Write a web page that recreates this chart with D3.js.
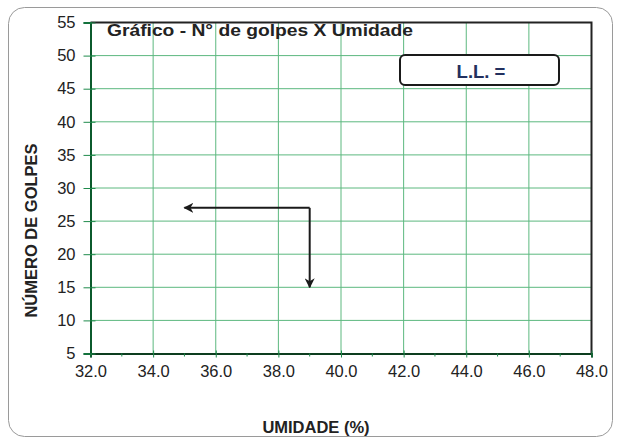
<!DOCTYPE html>
<html>
<head>
<meta charset="utf-8">
<script src="https://cdn.jsdelivr.net/npm/d3@7"></script>
<style>
  body { margin: 0; background: #fff; }
  text { font-family: "Liberation Sans", Arial, sans-serif; }
</style>
</head>
<body>
<script>
/* chart data */
var xTicks = [32, 34, 36, 38, 40, 42, 44, 46, 48];
var xMinor = [33, 35, 37, 39, 41, 43, 45, 47];
var yTicks = [5, 10, 15, 20, 25, 30, 35, 40, 45, 50, 55];
// guide arrows: start point and the two ends
var arrowStart = [39, 27];
var arrowEnds = [[35, 27], [39, 15]];
var title = "Gráfico - N° de golpes X Umidade";
var xTitle = "UMIDADE (%)";
var yTitle = "NÚMERO DE GOLPES";
var llLabel = "L.L. =";

var W = 620, H = 442;
var svg = d3.select("body").append("svg")
    .attr("width", W)
    .attr("height", H);

// outer rounded frame
svg.append("rect")
    .attr("x", 8.5).attr("y", 7.5)
    .attr("width", 604).attr("height", 429)
    .attr("rx", 16)
    .attr("fill", "#fff")
    .attr("stroke", "#9a9a9a")
    .attr("stroke-width", 1);

var x = d3.scaleLinear().domain([32, 48]).range([90.5, 591.5]);
var y = d3.scaleLinear().domain([5, 55]).range([353.5, 22.5]);

var defs = svg.append("defs");
defs.append("marker")
    .attr("id", "head")
    .attr("viewBox", "0 0 10 10")
    .attr("refX", 9).attr("refY", 5)
    .attr("markerWidth", 5).attr("markerHeight", 5)
    .attr("orient", "auto")
  .append("path")
    .attr("d", "M0,0 L10,5 L0,10 L3,5 Z")
    .attr("fill", "#1a1a1a");

// grid
svg.append("g").selectAll("line")
    .data(yTicks.slice(1, -1))
    .enter().append("line")
    .attr("x1", x(32)).attr("x2", x(48))
    .attr("y1", function(d) { return y(d); })
    .attr("y2", function(d) { return y(d); })
    .attr("stroke", "#5cb87f").attr("stroke-width", 1);

svg.append("g").selectAll("line")
    .data(xTicks.slice(1, -1))
    .enter().append("line")
    .attr("y1", y(5)).attr("y2", y(55))
    .attr("x1", function(d) { return x(d); })
    .attr("x2", function(d) { return x(d); })
    .attr("stroke", "#5cb87f").attr("stroke-width", 1);

// top and right border
svg.append("path")
    .attr("d", "M" + x(32) + "," + y(55) + "H" + x(48) + "V" + y(5))
    .attr("fill", "none")
    .attr("stroke", "#222").attr("stroke-width", 2);

// x axis
var xAxis = d3.axisBottom(x)
    .tickValues(xTicks)
    .tickFormat(d3.format(".1f"))
    .tickSize(4)
    .tickPadding(8);
var gx = svg.append("g")
    .attr("transform", "translate(0," + y(5) + ")")
    .call(xAxis);
gx.select(".domain").attr("stroke", "#0d3d1f").attr("stroke-width", 2);
gx.selectAll(".tick line").attr("stroke", "#1f8a4c").attr("y1", -3);
gx.selectAll(".tick text")
    .attr("font-size", 16.5).attr("fill", "#222")
    .attr("font-family", "Liberation Sans, Arial, sans-serif");

gx.selectAll(".minor")
    .data(xMinor)
    .enter().append("line")
    .attr("class", "minor")
    .attr("x1", function(d) { return x(d); })
    .attr("x2", function(d) { return x(d); })
    .attr("y1", 0).attr("y2", 3)
    .attr("stroke", "#1f8a4c");

// y axis
var yAxis = d3.axisLeft(y)
    .tickValues(yTicks)
    .tickSize(7)
    .tickPadding(8);
var gy = svg.append("g")
    .attr("transform", "translate(" + x(32) + ",0)")
    .call(yAxis);
gy.select(".domain").attr("stroke", "#0b5a2c").attr("stroke-width", 2);
gy.selectAll(".tick line").attr("stroke", "#1f8a4c").attr("x2", 5).attr("x1", -7);
gy.selectAll(".tick text")
    .attr("font-size", 16.5).attr("fill", "#222")
    .attr("font-family", "Liberation Sans, Arial, sans-serif");

// arrows
arrowEnds.forEach(function(e) {
    svg.append("line")
        .attr("x1", x(arrowStart[0])).attr("y1", y(arrowStart[1]))
        .attr("x2", x(e[0])).attr("y2", y(e[1]))
        .attr("stroke", "#1a1a1a").attr("stroke-width", 2)
        .attr("marker-end", "url(#head)");
});

// title
svg.append("text")
    .attr("x", 107).attr("y", 36)
    .attr("font-size", 17).attr("font-weight", "bold")
    .attr("fill", "#222")
    .attr("textLength", 306)
    .attr("lengthAdjust", "spacingAndGlyphs")
    .text(title);

// L.L. box
svg.append("rect")
    .attr("x", 400).attr("y", 55)
    .attr("width", 159).attr("height", 30)
    .attr("rx", 5)
    .attr("fill", "#fff")
    .attr("stroke", "#1a1a1a").attr("stroke-width", 2);
svg.append("text")
    .attr("x", 481).attr("y", 77.5)
    .attr("text-anchor", "middle")
    .attr("font-size", 18.5).attr("font-weight", "bold")
    .attr("fill", "#22305e")
    .text(llLabel);

// axis titles
svg.append("text")
    .attr("x", 316).attr("y", 433)
    .attr("text-anchor", "middle")
    .attr("font-size", 16.5).attr("font-weight", "bold")
    .attr("fill", "#222")
    .text(xTitle);

svg.append("text")
    .attr("transform", "translate(36.5,230.5) rotate(-90)")
    .attr("text-anchor", "middle")
    .attr("font-size", 16.5).attr("font-weight", "bold")
    .attr("fill", "#222")
    .text(yTitle);
</script>
</body>
</html>
